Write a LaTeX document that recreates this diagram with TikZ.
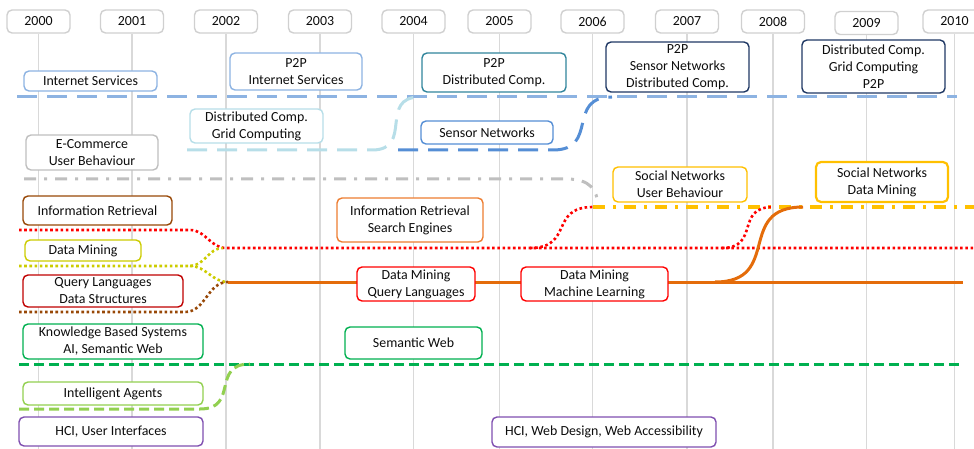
\documentclass[tikz,border=0pt]{standalone}
\usepackage{fontspec}
\setmainfont{Carlito}
\definecolor{yeargray}{HTML}{D0D0D0}
\definecolor{gridgray}{HTML}{D9D9D9}
\definecolor{lightblue}{HTML}{8DB3E2}
\definecolor{tealblue}{HTML}{31859C}
\definecolor{navy}{HTML}{1F3864}
\definecolor{lightcyan}{HTML}{B7DEE8}
\definecolor{sensorblue}{HTML}{558ED5}
\definecolor{softgray}{HTML}{BFBFBF}
\definecolor{brown}{HTML}{984807}
\definecolor{olive}{HTML}{CCCC00}
\definecolor{darkred}{HTML}{C00000}
\definecolor{green}{HTML}{00B050}
\definecolor{lightgreen}{HTML}{92D050}
\definecolor{purple}{HTML}{7F4FB0}
\definecolor{orange}{HTML}{E46C0A}
\definecolor{lightorange}{HTML}{ED7D31}
\definecolor{red}{HTML}{FF0000}
\definecolor{gold}{HTML}{FFC000}
\begin{document}
\begin{tikzpicture}[x=1pt, y=-1pt,
    every node/.style={font=\fontsize{13.9}{17}\selectfont, text=black!95},
    box/.style={draw, rounded corners=5pt, line width=1.4pt, fill=white, align=center, inner sep=0pt},
    year/.style={box, draw=yeargray, minimum width=63pt, minimum height=23pt},
    yearline/.style={draw=gridgray, line width=1.6pt},
    track/.style={line width=3pt},
    longdash/.style={track, dash pattern=on 20pt off 10pt},
    shortdash/.style={track, dash pattern=on 10pt off 5pt},
    dashdot/.style={track, dash pattern=on 12pt off 8pt on 3pt off 8pt},
    dots/.style={line width=2.6pt, dash pattern=on 2.6pt off 2.6pt},
    scurve/.style={out=0, in=180, looseness=1.5}]
    \useasboundingbox (0,0) rectangle (974,449);

    \node at (38.5,21.5) [year] (y2000) {2000};
    \node at (132,21.5) [year] (y2001) {2001};
    \node at (226,21.5) [year] (y2002) {2002};
    \node at (320,21.5) [year] (y2003) {2003};
    \node at (413.5,21.5) [year] (y2004) {2004};
    \node at (499.5,21.5) [year] (y2005) {2005};
    \node at (592.5,21.5) [year] (y2006) {2006};
    \node at (687,21.5) [year] (y2007) {2007};
    \node at (773,21.5) [year] (y2008) {2008};
    \node at (866.5,23) [year] (y2009) {2009};
    \node at (954.5,21.5) [year] (y2010) {2010};

    \draw[yearline] (y2000.south) -- ++(0,430);
    \draw[yearline] (y2001.south) -- ++(0,430);
    \draw[yearline] (y2002.south) -- ++(0,430);
    \draw[yearline] (y2003.south) -- ++(0,430);
    \draw[yearline] (y2004.south) -- ++(0,430);
    \draw[yearline] (y2005.south) -- ++(0,430);
    \draw[yearline] (y2006.south) -- ++(0,430);
    \draw[yearline] (y2007.south) -- ++(0,430);
    \draw[yearline] (y2008.south) -- ++(0,430);
    \draw[yearline] (y2009.south) -- ++(0,430);
    \draw[yearline] (y2010.south) -- ++(0,430);

    \coordinate (netstart) at (17,97);
    \coordinate (netend) at (957,97);
    \coordinate (gridstart) at (187,150);
    \coordinate (gridturn) at (372,150);
    \coordinate (gridjoin) at (420,97);
    \coordinate (sensstart) at (398,150);
    \coordinate (sensturn) at (553,150);
    \coordinate (sensjoin) at (612,97);
    \coordinate (userstart) at (24,179);
    \coordinate (userturn) at (567,179);
    \coordinate (userend) at (598,205);
    \coordinate (socstart) at (593,207);
    \coordinate (socend) at (974,207);
    \coordinate (irstart) at (19,230);
    \coordinate (irturn) at (190,230);
    \coordinate (irjoin) at (226,248);
    \coordinate (irend) at (974,248);
    \coordinate (irfork) at (530,248);
    \coordinate (irfork2) at (722,248);
    \coordinate (socjoin2) at (773,207);
    \coordinate (dmstart) at (19,266);
    \coordinate (dmturn) at (190,266);
    \coordinate (dmjoin) at (223,248);
    \coordinate (qlstart) at (19,312);
    \coordinate (qlturn) at (185,312);
    \coordinate (qljoin) at (228,282);
    \coordinate (qlend) at (963,282);
    \coordinate (qlfork) at (715,282);
    \coordinate (socjoin3) at (803,207);
    \coordinate (kbstart) at (19,364);
    \coordinate (kbend) at (963,364);
    \coordinate (agstart) at (19,409);
    \coordinate (agturn) at (200,409);
    \coordinate (agjoin) at (250,364);

    \draw[longdash, lightblue] (netstart) -- (netend);
    \draw[longdash, lightcyan] (gridstart) -- (gridturn) to[scurve] (gridjoin);
    \draw[longdash, sensorblue] (sensstart) -- (sensturn) to[scurve] (sensjoin);
    \draw[dashdot, softgray] (userstart) -- (userturn) .. controls (590,179) and (597,190) .. (userend);
    \draw[dashdot, gold, line width=3.5pt] (socstart) -- (socend);
    \draw[dots, red] (irstart) -- (irturn) to[out=0, in=180] (irjoin) -- (irend);
    \draw[dots, red] (irfork) to[scurve] (socstart);
    \draw[dots, red] (irfork2) to[scurve] (socjoin2);
    \draw[dots, olive] (dmstart) -- (dmturn) to[out=0, in=180] (dmjoin);
    \draw[dots, olive] (dmturn) to[out=0, in=180] (qljoin);
    \draw[dots, brown] (qlstart) -- (qlturn) to[out=0, in=180] (qljoin);
    \draw[track, orange] (qljoin) -- (qlend);
    \draw[track, orange] (qlfork) to[scurve] (socjoin3);
    \draw[shortdash, green] (kbstart) -- (kbend);
    \draw[shortdash, lightgreen] (agstart) -- (agturn) to[scurve] (agjoin);

    \node at (90.5,81) [box, draw=lightblue, minimum width=133pt, minimum height=20pt] (inet) {Internet Services};
    \node at (296,71.5) [box, draw=lightblue, minimum width=132pt, minimum height=37pt] (p2pinet) {P2P\\Internet Services};
    \node at (494,72.5) [box, draw=tealblue, minimum width=144pt, minimum height=39pt] (p2pdist) {P2P\\Distributed Comp.};
    \node at (677.5,67) [box, draw=navy, minimum width=143pt, minimum height=50pt] (p2psens) {P2P\\Sensor Networks\\Distributed Comp.};
    \node at (873.5,66.5) [box, draw=navy, minimum width=143pt, minimum height=53pt] (distgrid) {Distributed Comp.\\Grid Computing\\P2P};
    \node at (256.5,126) [box, draw=lightcyan, minimum width=133pt, minimum height=34pt] (gridcomp) {Distributed Comp.\\Grid Computing};
    \node at (487,132.5) [box, draw=sensorblue, minimum width=132pt, minimum height=23pt] (sensnet) {Sensor Networks};
    \node at (92,152.5) [box, draw=softgray, minimum width=132pt, minimum height=35pt] (ecomm) {E-Commerce\\User Behaviour};
    \node at (97.5,210.5) [box, draw=brown, minimum width=149pt, minimum height=29pt] (infret) {Information Retrieval};
    \node at (83,250.5) [box, draw=olive, minimum width=116pt, minimum height=21pt] (dmining) {Data Mining};
    \node at (103,291) [box, draw=darkred, minimum width=160pt, minimum height=32pt] (querylang) {Query Languages\\Data Structures};
    \node at (113,341.5) [box, draw=green, minimum width=180pt, minimum height=35pt] (knowbased) {Knowledge Based Systems\\AI, Semantic Web};
    \node at (113,393.5) [box, draw=lightgreen, minimum width=180pt, minimum height=23pt] (agents) {Intelligent Agents};
    \node at (111,431.5) [box, draw=purple, minimum width=184pt, minimum height=29pt] (hciui) {HCI, User Interfaces};
    \node at (410,220) [box, draw=lightorange, minimum width=146pt, minimum height=44pt] (irsearch) {Information Retrieval\\Search Engines};
    \node at (416,284) [box, draw=red, minimum width=118pt, minimum height=34pt] (dmquery) {Data Mining\\Query Languages};
    \node at (594.5,284) [box, draw=red, minimum width=147pt, minimum height=34pt] (dmlearn) {Data Mining\\Machine Learning};
    \node at (413.5,343) [box, draw=green, minimum width=137pt, minimum height=32pt] (semweb) {Semantic Web};
    \node at (604,432) [box, draw=purple, minimum width=224pt, minimum height=30pt] (hciweb) {HCI, Web Design, Web Accessibility};
    \node at (680,184.5) [box, draw=gold, minimum width=134pt, minimum height=35pt] (socuser) {Social Networks\\User Behaviour};
    \node at (882,182) [box, draw=gold, line width=2.2pt, minimum width=132pt, minimum height=40pt] (socdata) {Social Networks\\Data Mining};
\end{tikzpicture}
\end{document}
